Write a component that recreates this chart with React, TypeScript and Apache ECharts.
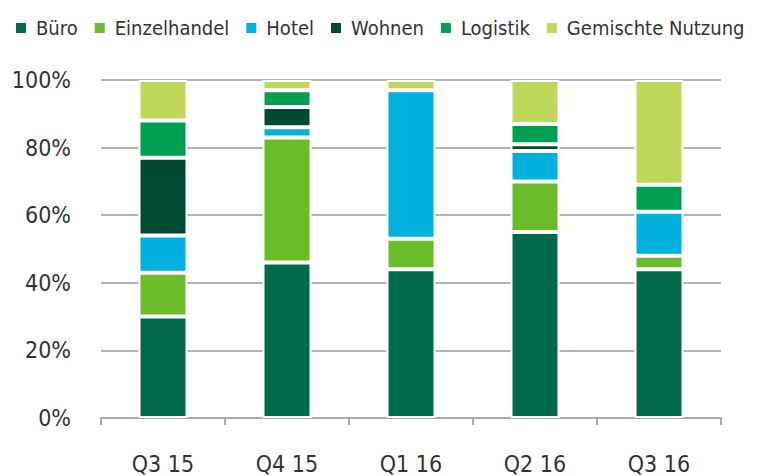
import React, { useEffect, useRef } from "react";
import * as echarts from "echarts";

const categories = ["Q3 15", "Q4 15", "Q1 16", "Q2 16", "Q3 16"];
const seriesNames = ["Büro", "Einzelhandel", "Hotel", "Wohnen", "Logistik", "Gemischte Nutzung"];
const bueroValues = [30, 46, 44, 55, 44];
const einzelhandelValues = [13, 37, 9, 15, 4];
const hotelValues = [11, 3, 44, 9, 13];
const wohnenValues = [23, 6, 0, 2, 0];
const logistikValues = [11, 5, 0, 6, 8];
const gemischteValues = [12, 3, 3, 13, 31];
const colors = ["#006B4A", "#6ABD28", "#00B0DD", "#004A32", "#00A050", "#C0D85A"];
const yTicks = [0, 20, 40, 60, 80, 100];

const FONT = "'DejaVu Sans Condensed', 'DejaVu Sans', sans-serif";

export default function App() {
  const ref = useRef<HTMLDivElement>(null);
  useEffect(() => {
    if (!ref.current) return;
    const chart = echarts.init(ref.current, undefined, { renderer: "svg" });
    const all = [bueroValues, einzelhandelValues, hotelValues, wohnenValues, logistikValues, gemischteValues];
    chart.setOption({
      animation: false,
      color: colors,
      textStyle: { fontFamily: FONT },
      legend: {
        left: 9,
        top: 13,
        width: 748,
        itemWidth: 12,
        itemHeight: 12,
        itemGap: 15,
        icon: "rect",
        textStyle: { fontFamily: FONT, fontSize: 20, color: "#333", padding: [0, 0, 0, 4] },
        data: seriesNames,
      },
      grid: { left: 101, right: 36, top: 80, bottom: 58 },
      xAxis: {
        type: "category",
        data: categories,
        axisLine: { lineStyle: { color: "#aaa", width: 2 } },
        axisTick: { show: true, length: 7, lineStyle: { color: "#aaa", width: 2 } },
        axisLabel: { fontFamily: FONT, fontSize: 23, color: "#333", margin: 34 },
      },
      yAxis: {
        type: "value",
        min: 0,
        max: 100,
        interval: 20,
        axisLine: { show: false },
        axisTick: { show: false },
        axisLabel: {
          fontFamily: FONT,
          fontSize: 23,
          color: "#333",
          margin: 30,
          formatter: (v: number) => (yTicks.includes(v) ? v + "%" : ""),
        },
        splitLine: { lineStyle: { color: "#b3b3b3", width: 2 } },
      },
      series: seriesNames.map((name, i) => ({
        name,
        type: "bar",
        stack: "total",
        barWidth: 49,
        data: all[i],
        itemStyle: { borderColor: "#ffffff", borderWidth: 2 },
      })),
    });
    return () => chart.dispose();
  }, []);
  return (
    <div
      ref={ref}
      style={{ position: "fixed", left: 0, top: 0, width: 757, height: 476, background: "#fff" }}
    />
  );
}
